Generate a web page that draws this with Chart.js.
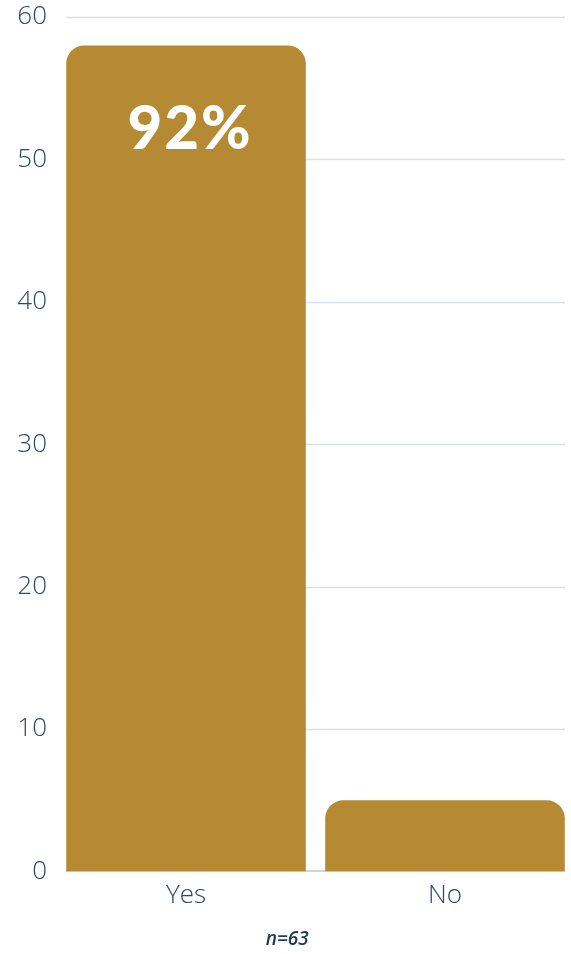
<!DOCTYPE html>
<html>
<head>
<meta charset="utf-8">
<script src="https://cdn.jsdelivr.net/npm/chart.js@4/dist/chart.umd.min.js"></script>
<style>
  html, body { margin: 0; padding: 0; background: #fff; }
  #clip { width: 571px; height: 954px; overflow: hidden; }
  #wrap { width: 583px; height: 954px; }
</style>
</head>
<body>
<div id="clip"><div id="wrap"><canvas id="c"></canvas></div></div>
<script>
// chart data
const categories = ['Yes', 'No'];
const counts = [58, 5];
const barLabels = ['92%', ''];
const yTicks = [0, 10, 20, 30, 40, 50, 60];
const sampleNote = 'n=63';

const gold = '#B58A33';
const ink = '#2B4A66';
const gridLeft = 66, gridRight = 565;

// y grid and base line, drawn only across the visible plot width
const gridLines = {
    id: 'gridLines',
    beforeDatasetsDraw(chart) {
        const ctx = chart.ctx;
        const y = chart.scales.y;
        ctx.save();
        ctx.lineWidth = 1.3;
        ctx.strokeStyle = '#D9E0E7';
        yTicks.forEach(v => {
            if (v === 0) return;
            const py = Math.round(y.getPixelForValue(v)) + 0.5;
            ctx.beginPath();
            ctx.moveTo(gridLeft, py);
            ctx.lineTo(gridRight, py);
            ctx.stroke();
        });
        const base = y.getPixelForValue(0);
        ctx.strokeStyle = '#9FAEBD';
        ctx.lineWidth = 1;
        ctx.beginPath();
        ctx.moveTo(gridLeft, base - 0.5);
        ctx.lineTo(gridRight, base - 0.5);
        ctx.stroke();
        ctx.restore();
    }
};

// prints the percentage inside the top of each bar
const barText = {
    id: 'barText',
    afterDatasetsDraw(chart) {
        const ctx = chart.ctx;
        const meta = chart.getDatasetMeta(0);
        ctx.save();
        ctx.fillStyle = '#fff';
        ctx.font = '900 60px "Lato", "Open Sans", sans-serif';
        if ('letterSpacing' in ctx) ctx.letterSpacing = '2px';
        ctx.textAlign = 'center';
        ctx.textBaseline = 'middle';
        meta.data.forEach((bar, i) => {
            if (!barLabels[i]) return;
            ctx.fillText(barLabels[i], bar.x + 4, bar.y + 84);
        });
        ctx.restore();
    }
};

new Chart(document.getElementById('c'), {
    type: 'bar',
    data: {
        labels: categories,
        datasets: [{
            data: counts,
            backgroundColor: gold,
            borderRadius: { topLeft: 18, topRight: 18 },
            borderSkipped: 'bottom',
            barPercentage: 0.925,
            categoryPercentage: 1
        }]
    },
    options: {
        responsive: true,
        maintainAspectRatio: false,
        animation: false,
        layout: { padding: { top: 17, right: 8.5, left: 0, bottom: 0 } },
        plugins: {
            legend: { display: false },
            tooltip: { enabled: false },
            title: {
                display: true,
                position: 'bottom',
                text: sampleNote,
                color: '#1F3A55',
                font: { family: '"Open Sans"', size: 19, style: 'italic', weight: '600' },
                padding: { top: 16.7, bottom: 3 }
            }
        },
        scales: {
            x: {
                grid: { display: false, drawTicks: false },
                border: { display: false },
                ticks: { color: ink, font: { family: '"Open Sans"', size: 26, weight: '300' }, padding: 8 },
                afterFit: (axis) => { axis.height = 40; }
            },
            y: {
                min: 0,
                max: 60,
                afterBuildTicks: (axis) => { axis.ticks = yTicks.map(v => ({ value: v })); },
                grid: { display: false, drawTicks: false },
                border: { display: false },
                ticks: { color: ink, font: { family: '"Open Sans"', size: 26, weight: '300' }, padding: 9.5 },
                afterFit: (axis) => {
                    axis.width = 56.5;
                    axis.paddingTop = 0;
                    axis.paddingBottom = 0;
                }
            }
        }
    },
    plugins: [gridLines, barText]
});
</script>
</body>
</html>
